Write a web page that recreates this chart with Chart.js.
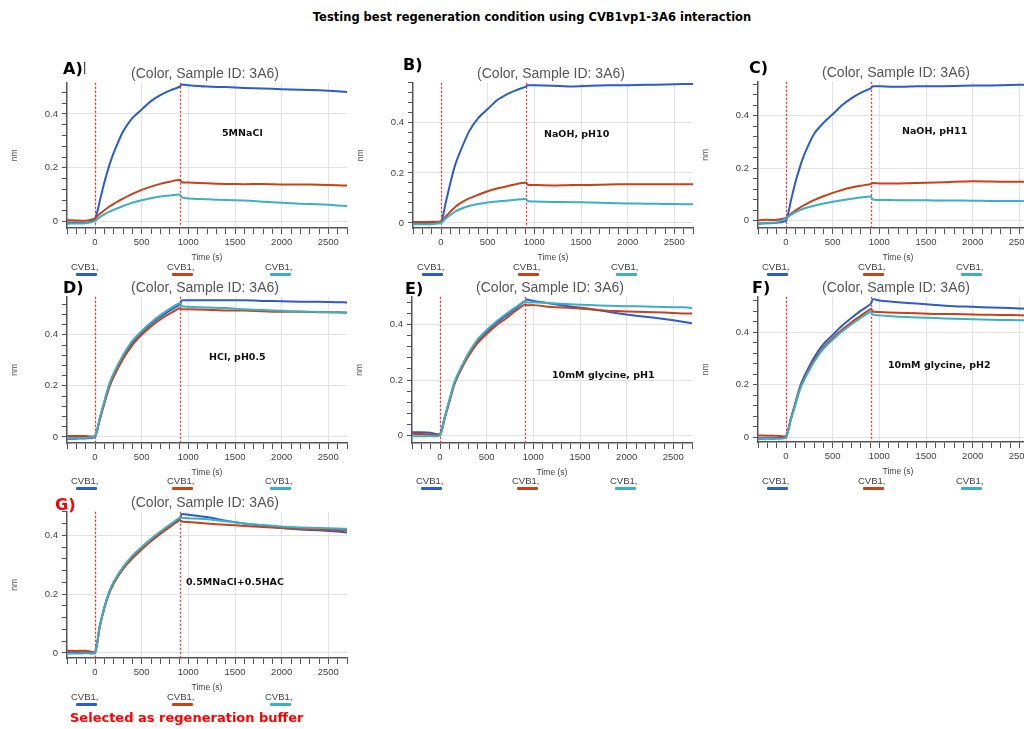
<!DOCTYPE html>
<html><head><meta charset="utf-8">
<script src="https://cdn.jsdelivr.net/npm/chart.js@4.4.1/dist/chart.umd.min.js"></script>
<style>
html,body{margin:0;padding:0;background:#fff;width:1024px;height:729px;overflow:hidden;position:relative;}
canvas{position:absolute;}
.t{position:absolute;white-space:nowrap;line-height:20px;}
</style></head><body>
<script>
// ---------- DATA ----------
const timeS = [-300,-200,-100,0,50,100,150,200,300,400,500,600,700,800,910,930,1000,1200,1400,1600,1800,2000,2200,2400,2600,2700];
const stepTimes = [0, 910];
const tickLabelsY = ['0','0.2','0.4'];

const aBlue = [-0.005,-0.004,-0.005,0.01,0.075,0.145,0.205,0.255,0.335,0.385,0.417,0.448,0.47,0.487,0.502,0.51,0.507,0.502,0.5,0.497,0.495,0.492,0.49,0.488,0.485,0.482];
const aRed  = [0.005,0.004,0.003,0.012,0.028,0.042,0.055,0.066,0.085,0.103,0.118,0.13,0.14,0.148,0.155,0.146,0.145,0.142,0.14,0.139,0.14,0.138,0.138,0.137,0.135,0.134];
const aTeal = [-0.008,-0.007,-0.006,0.002,0.016,0.027,0.036,0.044,0.058,0.07,0.079,0.087,0.093,0.097,0.1,0.09,0.086,0.083,0.08,0.078,0.074,0.07,0.066,0.064,0.06,0.058];

const bBlue = [0.0,-0.002,0.0,0.005,0.08,0.16,0.23,0.28,0.365,0.42,0.455,0.49,0.513,0.53,0.545,0.55,0.55,0.548,0.545,0.548,0.55,0.55,0.552,0.553,0.555,0.555];
const bRed  = [0.004,0.004,0.005,0.006,0.025,0.045,0.063,0.077,0.098,0.113,0.127,0.138,0.146,0.155,0.162,0.153,0.152,0.15,0.152,0.152,0.154,0.155,0.155,0.155,0.155,0.155];
const bTeal = [-0.005,-0.005,-0.004,0.0,0.018,0.032,0.045,0.055,0.068,0.076,0.082,0.086,0.089,0.093,0.096,0.088,0.086,0.084,0.083,0.082,0.08,0.078,0.077,0.076,0.075,0.075];

const cBlue = [-0.012,-0.01,-0.008,0.0,0.072,0.145,0.205,0.255,0.33,0.372,0.405,0.44,0.466,0.487,0.505,0.512,0.512,0.51,0.512,0.512,0.513,0.515,0.515,0.517,0.518,0.518];
const cRed  = [0.002,0.003,0.003,0.01,0.025,0.038,0.05,0.06,0.078,0.093,0.106,0.117,0.126,0.133,0.14,0.143,0.142,0.142,0.143,0.145,0.148,0.15,0.149,0.148,0.148,0.147];
const cTeal = [-0.01,-0.008,-0.006,0.008,0.022,0.032,0.04,0.047,0.057,0.065,0.072,0.078,0.083,0.088,0.092,0.08,0.079,0.078,0.078,0.077,0.077,0.076,0.075,0.075,0.074,0.074];

const dBlue = [-0.008,-0.007,-0.006,0.0,0.07,0.136,0.2,0.245,0.315,0.37,0.41,0.443,0.47,0.495,0.52,0.535,0.535,0.535,0.535,0.535,0.533,0.532,0.53,0.53,0.528,0.527];
const dRed  = [0.003,0.003,0.003,0.004,0.065,0.13,0.19,0.235,0.305,0.36,0.4,0.433,0.46,0.483,0.505,0.5,0.5,0.498,0.495,0.495,0.492,0.49,0.49,0.488,0.488,0.487];
const dTeal = [-0.005,-0.004,-0.004,0.002,0.072,0.14,0.204,0.25,0.32,0.376,0.415,0.448,0.477,0.502,0.525,0.512,0.51,0.507,0.505,0.5,0.497,0.494,0.491,0.489,0.487,0.486];

const eBlue = [0.012,0.012,0.01,0.005,0.065,0.125,0.185,0.225,0.29,0.34,0.375,0.405,0.43,0.455,0.485,0.49,0.485,0.475,0.465,0.457,0.446,0.436,0.428,0.42,0.41,0.405];
const eRed  = [0.006,0.005,0.004,0.003,0.062,0.12,0.18,0.22,0.283,0.332,0.366,0.396,0.42,0.447,0.473,0.47,0.47,0.463,0.46,0.455,0.45,0.447,0.445,0.443,0.44,0.44];
const eTeal = [-0.003,-0.003,-0.002,0.0,0.066,0.127,0.188,0.228,0.294,0.345,0.38,0.41,0.436,0.46,0.485,0.48,0.48,0.477,0.473,0.47,0.468,0.466,0.465,0.463,0.462,0.46];

const fBlue = [-0.005,-0.005,-0.004,0.0,0.068,0.13,0.193,0.235,0.303,0.355,0.39,0.425,0.455,0.482,0.51,0.527,0.522,0.515,0.51,0.505,0.5,0.498,0.495,0.493,0.49,0.49];
const fRed  = [0.006,0.005,0.005,0.004,0.065,0.125,0.186,0.226,0.292,0.343,0.378,0.41,0.438,0.463,0.49,0.48,0.478,0.475,0.473,0.47,0.47,0.468,0.467,0.466,0.465,0.465];
const fTeal = [-0.008,-0.007,-0.007,-0.002,0.064,0.123,0.183,0.222,0.287,0.337,0.372,0.403,0.43,0.455,0.48,0.468,0.465,0.46,0.457,0.455,0.452,0.45,0.448,0.447,0.446,0.445];

const gBlue = [0.003,0.002,0.002,0.0,0.09,0.155,0.205,0.24,0.29,0.328,0.357,0.385,0.41,0.433,0.458,0.472,0.47,0.462,0.45,0.44,0.432,0.425,0.42,0.417,0.413,0.41];
const gRed  = [0.008,0.007,0.008,0.004,0.088,0.152,0.2,0.236,0.285,0.322,0.352,0.38,0.405,0.428,0.452,0.447,0.445,0.44,0.436,0.432,0.428,0.425,0.422,0.42,0.418,0.417];
const gTeal = [-0.002,-0.002,-0.001,0.001,0.09,0.155,0.206,0.242,0.292,0.33,0.36,0.388,0.413,0.436,0.46,0.46,0.458,0.455,0.448,0.44,0.435,0.43,0.427,0.425,0.423,0.422];

const panelLetters = ['A)','B)','C)','D)','E)','F)','G)'];
const conditions = ['5MNaCl','NaOH, pH10','NaOH, pH11','HCl, pH0.5','10mM glycine, pH1','10mM glycine, pH2','0.5MNaCl+0.5HAC'];
const seriesLabels = ['CVB1,','CVB1,','CVB1,'];
const panelSeries = [[aBlue,aRed,aTeal],[bBlue,bRed,bTeal],[cBlue,cRed,cTeal],[dBlue,dRed,dTeal],[eBlue,eRed,eTeal],[fBlue,fRed,fTeal],[gBlue,gRed,gTeal]];
const yMins = [-0.024,-0.02,-0.028,-0.024,-0.027,-0.019,-0.017];
const yMaxs = [0.516,0.56,0.529,0.549,0.5,0.536,0.48];
const xMin = -300, xMax = 2700;

// ---------- LAYOUT / STYLE ----------
const boxes = [{L:67,T:83,B:228},{L:413,T:83,B:228},{L:758,T:82,B:228},{L:67,T:297,B:443},{L:412,T:297,B:443},{L:758,T:297,B:442},{L:67,T:512,B:658}];
const letterPos = [[63,69],[403,65],[749,68],[63,288],[405,289],[752,288],[55,505]];
const notePos = [[222,137],[544,138],[902,135],[209,361],[552,379],[888,369],[186,586]];
const legendY = [269,269,269,483,483,483,699];
const colors = ['#2b5cc9','#c9401b','#3bb0c4'];
const sans = '"Liberation Sans", Arial, sans-serif';
const bold = '"DejaVu Sans", Verdana, sans-serif';

function addText(txt, x, y, css){
  const d=document.createElement('div'); d.className='t'; d.textContent=txt;
  d.style.left=x+'px'; d.style.top=(y-10)+'px'; Object.assign(d.style, css||{});
  document.body.appendChild(d); return d;
}

const stepLinesPlugin = {
  id:'stepLines',
  beforeDatasetsDraw(chart){
    const {ctx, chartArea, scales} = chart;
    ctx.save(); ctx.strokeStyle='#ff2a2a'; ctx.lineWidth=1.3; ctx.setLineDash([2,2]);
    stepTimes.forEach(t=>{
      const px=Math.round(scales.x.getPixelForValue(t))+0.5;
      ctx.beginPath(); ctx.moveTo(px, chartArea.top); ctx.lineTo(px, chartArea.bottom); ctx.stroke();
    });
    ctx.restore();
  }
};

// main title
addText('Testing best regeneration condition using CVB1vp1-3A6 interaction', 0, 20,
  {width:'1064px', textAlign:'center', font:'bold 11.5px '+bold, color:'#000'});

boxes.forEach((b,i)=>{
  const cv=document.createElement('canvas');
  const left=b.L-58, top=b.T-17, w=392, h=(b.B-b.T)+17+35;
  cv.width=w; cv.height=h;
  cv.style.left=left+'px'; cv.style.top=top+'px'; cv.style.width=w+'px'; cv.style.height=h+'px';
  document.body.appendChild(cv);
  new Chart(cv,{
    type:'line',
    data:{datasets: panelSeries[i].map((s,k)=>({
      label: seriesLabels[k],
      data: timeS.map((t,j)=>({x:t,y:s[j]})),
      borderColor: colors[k], borderWidth:2, pointRadius:0, tension:0.2, fill:false, order:3-k
    }))},
    options:{
      responsive:false, animation:false, devicePixelRatio:1,
      layout:{padding:0},
      plugins:{
        legend:{display:false}, tooltip:{enabled:false},
        title:{display:true, text:'(Color, Sample ID: 3A6)', color:'#555', padding:0,
          font:{family:sans, size:14, weight:'normal', lineHeight:1.2}}
      },
      scales:{
        x:{type:'linear', min:xMin, max:xMax,
          afterFit:s=>{s.height=35;},
          ticks:{stepSize:100, autoSkip:false, maxRotation:0, minRotation:0, includeBounds:false, padding:3,
            color:'#444', font:{family:sans, size:9.5},
            callback:v=> (Math.round(v)%500===0 ? String(Math.round(v)) : '')},
          grid:{color:c=>(c.tick && Math.round(c.tick.value)%500===0)?'#e2e2e2':'rgba(0,0,0,0)',
            tickColor:'#555', tickLength:6, lineWidth:1},
          border:{color:'#555', width:1.5},
          title:{display:true, text:'Time (s)', color:'#444', font:{family:sans, size:8.5}, padding:0}
        },
        y:{type:'linear', min:yMins[i], max:yMaxs[i],
          afterFit:s=>{s.width=58;},
          ticks:{stepSize:0.04, autoSkip:false, includeBounds:false, padding:4,
            color:'#444', font:{family:sans, size:9.5},
            callback:v=>{const r=Math.round(v*100); return r%20===0 ? tickLabelsY[r/20] : '';}},
          grid:{color:c=>{if(!c.tick) return 'rgba(0,0,0,0)'; const r=Math.round(c.tick.value*100); return r%20===0?'#e2e2e2':'rgba(0,0,0,0)';},
            tickColor:'#555', tickLength:5, lineWidth:1},
          border:{color:'#555', width:1.5},
          title:{display:true, text:'nm', color:'#555', font:{family:sans, size:8.5}, padding:{top:1,bottom:0}}
        },
        yR:{type:'linear', position:'right', min:0, max:1, display:true,
          afterFit:s=>{s.width=54;},
          ticks:{display:false}, grid:{display:false, drawTicks:false}, border:{display:false}}
      }
    },
    plugins:[stepLinesPlugin]
  });

  // panel letter
  const lp=letterPos[i];
  addText(panelLetters[i], lp[0], lp[1], {font:'bold 16px '+bold, color: i===6?'#f00':'#000'});
  if(i===0){ addText('|', lp[0]+20, lp[1], {font:'13px '+sans, color:'#333'}); }
  // condition note
  const np=notePos[i];
  addText(conditions[i], np[0], np[1], {font:'bold 9.5px '+bold, color:'#111'});
  // legend
  [4,100,198].forEach((dx,k)=>{
    addText(seriesLabels[k], b.L+dx, legendY[i]+2, {font:'9.5px '+sans, color:'#444'});
    const bar=document.createElement('div');
    bar.style.cssText='position:absolute;height:3px;width:21px;border-radius:1px;background:'+colors[k]+';left:'+(b.L+dx+5)+'px;top:'+(legendY[i]+4)+'px;';
    document.body.appendChild(bar);
  });
});

addText('Selected as regeneration buffer', 70, 720, {font:'bold 13px '+bold, color:'#f00'});
</script>
</body></html>
